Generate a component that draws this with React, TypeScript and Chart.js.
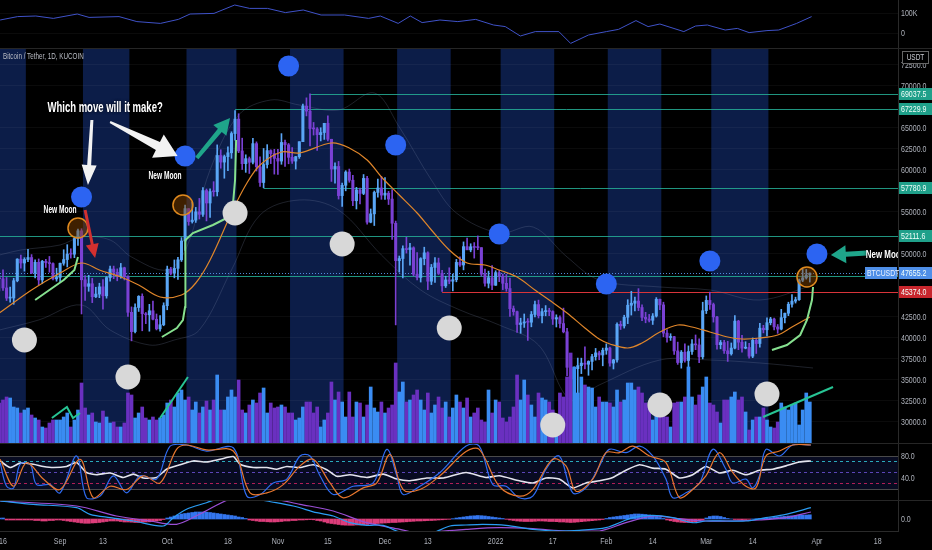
import React, { useEffect, useRef } from "react";
import { Chart, registerables } from "chart.js";

Chart.register(...registerables);

// ---------- x axis: days since 15 Aug 2021 ----------
const X_MIN = 0.16;
const X_MAX = 251.7;
const TICK_DAYS = [1, 17, 29, 47, 64, 78, 92, 108, 120, 139, 155, 170, 183, 198, 211, 229, 246];
const TICK_LABELS = ["16", "Sep", "13", "Oct", "18", "Nov", "15", "Dec", "13", "2022", "17", "Feb", "14", "Mar", "14", "Apr", "18"];

// ---------- daily candles, 15 Aug 2021 .. 30 Mar 2022 ----------
const OPEN = [
  47050, 46990, 45900, 44690, 44700, 46760, 49330, 48870, 49290, 49520, 47700, 48950, 46850, 49070, 48900, 48800, 46980,
  47150, 48840, 49280, 49940, 49920, 51790, 52700, 46870, 46090, 46400, 44850, 45170, 46030, 44960, 47130, 48150, 47770, 47300, 48300, 47260, 43000, 40700, 43570, 44900, 42830, 42700, 43180, 42170, 41030, 41520,
  43790, 48140, 47650, 48230, 49250, 51490, 55340, 53800, 53970, 54960, 54660, 57490, 56010, 57370, 57350, 61670, 60880, 61530, 61990, 64280, 66000, 62210, 60690, 61290, 60860, 63080, 60330, 58450, 60590, 62250, 61890,
  61320, 61000, 63220, 62940, 61450, 61000, 61530, 63310, 67550, 66950, 64880, 64830, 64150, 64400, 65500, 63600, 60060, 60360, 56890, 58120, 59700, 58720, 56280, 57570, 57150, 58940, 53730, 54720, 57270, 57800,
  56950, 57180, 56480, 53600, 49150, 49400, 50580, 50470, 50680, 47540, 47140, 49390, 50080, 46700, 48340, 48880, 47630, 46150, 46850, 46700, 46880, 48940, 48630, 50820, 50430, 50800, 50720, 50700, 47540, 46460, 47120,
  46220, 47720, 47290, 46450, 45830, 43430, 43080, 41550, 41730, 41860, 41820, 42740, 43920, 42600, 43080, 43200, 43090, 42200, 42370, 41660, 40680, 36450, 35070, 36280, 36650, 36950, 36810, 37150, 37720, 38170, 37920,
  38480, 38740, 36950, 37330, 41570, 41380, 42410, 43840, 44080, 44340, 43570, 42400, 42200, 42050, 42550, 44550, 43880, 40520, 40000, 40100, 38400, 37020, 38250, 37260, 38330, 39230, 39120, 37700,
  43190, 44420, 43920, 42450, 39150, 39400, 38420, 38060, 38740, 41950, 39440, 38730, 38810, 37780, 39670, 39280, 41110, 40920, 41760, 42200, 41260, 41000, 42360, 42890, 43960, 44330, 44500, 46820, 47100, 47440,
];
const HIGH = [
  47400, 48050, 47150, 46000, 47050, 49380, 49800, 49500, 50500, 49870, 49250, 49350, 49180, 49300, 49650, 48900, 48250,
  48850, 50450, 51050, 50560, 51900, 52900, 52950, 47380, 47400, 47040, 45980, 46460, 46880, 47250, 48490, 48500, 48170, 48820, 48370, 47350, 43640, 44000, 44980, 45200, 42980, 43950, 44350, 42800, 42600, 44130,
  48500, 48360, 49230, 49530, 51890, 55750, 55340, 56100, 55490, 56560, 57840, 57680, 57700, 58550, 62930, 62350, 61720, 62700, 64490, 67000, 66640, 63730, 61750, 61490, 63700, 63290, 61500, 62500, 62960, 62350, 62400,
  62400, 64270, 63500, 63100, 62600, 61560, 63300, 67790, 68530, 69000, 65600, 65000, 64970, 65500, 66400, 63600, 60800, 60960, 58380, 59860, 60050, 59300, 57880, 57800, 59400, 59200, 55300, 57440, 58860, 59180,
  59050, 57400, 57600, 53860, 49700, 50900, 51930, 51200, 50800, 50100, 49500, 50750, 50200, 48700, 49500, 49450, 47990, 47300, 48300, 47550, 49300, 49600, 51380, 51850, 51160, 51300, 52090, 50700, 48140, 47900, 48550,
  47950, 47990, 47560, 47500, 47070, 43750, 43150, 42300, 42800, 42250, 43100, 44350, 44450, 43450, 43800, 43480, 43180, 42700, 42580, 43500, 41100, 36830, 36500, 37550, 37540, 38900, 37230, 38000, 38700, 38370, 38740,
  39250, 38850, 37400, 41750, 41950, 42650, 44500, 45500, 44800, 45820, 43900, 43000, 42750, 42850, 44750, 44580, 44200, 40950, 40450, 40150, 39450, 38450, 39250, 39000, 39750, 40300, 39850, 44200,
  44950, 45400, 44100, 42520, 39650, 39650, 39550, 39350, 42600, 42050, 40250, 39500, 39300, 39950, 39900, 41700, 41450, 42350, 42400, 42300, 41550, 43350, 42900, 44200, 45100, 44800, 46950, 48200, 48100, 47700,
];
const LOW = [
  45550, 45600, 44400, 44200, 43950, 46630, 48250, 47900, 49020, 47600, 47100, 46250, 46400, 48350, 47770, 46850, 46700,
  46550, 48600, 48400, 49450, 49500, 50970, 42800, 44400, 45500, 44150, 44750, 44740, 43370, 44680, 46700, 47000, 46750, 47050, 46850, 42500, 39600, 40550, 43100, 40800, 41650, 40750, 42100, 40900, 40750, 41400,
  43300, 47450, 47100, 46900, 49050, 50380, 53360, 53620, 53700, 54100, 54420, 53880, 54300, 56820, 56850, 60150, 58960, 59850, 61330, 63480, 62000, 60000, 59660, 59530, 60650, 59820, 58000, 57820, 60170, 60700, 59450,
  59400, 60620, 60380, 60680, 60720, 60050, 61320, 63300, 66380, 62820, 64100, 62280, 63400, 63580, 63400, 58580, 58370, 56480, 55600, 57460, 58480, 55680, 55300, 55900, 57000, 53500, 53650, 53330, 56700, 56450,
  56450, 55830, 51680, 41500, 47800, 47100, 50050, 48600, 47330, 46850, 46600, 48650, 45700, 46300, 46550, 47500, 45500, 45950, 46400, 45550, 46630, 48450, 48050, 50450, 50200, 49450, 50450, 47300, 46100, 45900, 45680,
  46200, 46650, 45700, 45500, 42500, 42650, 40610, 40500, 41200, 39650, 41270, 42450, 42320, 41730, 42580, 42600, 41550, 41250, 41150, 40550, 35450, 34000, 34600, 32950, 35700, 36250, 35500, 36150, 37300, 37350, 36630,
  38000, 36600, 36250, 37050, 40950, 41120, 41650, 42670, 43150, 43200, 42000, 41750, 41850, 41550, 42430, 43300, 40080, 39450, 39650, 38000, 36800, 36350, 37050, 34320, 38000, 38550, 37000, 37450,
  42850, 43350, 41830, 38600, 38650, 38100, 37150, 37900, 38650, 38550, 38250, 38650, 37550, 37600, 38100, 38850, 40550, 40200, 41500, 40900, 40500, 40900, 41750, 42600, 43600, 44100, 44400, 46650, 46950, 46600,
];
const CLOSE = [
  46990, 45900, 44690, 44700, 46760, 49330, 48870, 49290, 49520, 47700, 48950, 46850, 49070, 48900, 48800, 46980, 47150,
  48840, 49280, 49940, 49920, 51790, 52700, 46870, 46090, 46400, 44850, 45170, 46030, 44960, 47130, 48150, 47770, 47300, 48300, 47260, 43000, 40700, 43570, 44900, 42830, 42700, 43180, 42170, 41030, 41520, 43790,
  48140, 47650, 48230, 49250, 51490, 55340, 53800, 53970, 54960, 54660, 57490, 56010, 57370, 57350, 61670, 60880, 61530, 61990, 64280, 66000, 62210, 60690, 61290, 60860, 63080, 60330, 58450, 60590, 62250, 61890, 61320,
  61000, 63220, 62940, 61450, 61000, 61530, 63310, 67550, 66950, 64880, 64830, 64150, 64400, 65500, 63600, 60060, 60360, 56890, 58120, 59700, 58720, 56280, 57570, 57150, 58940, 53730, 54720, 57270, 57800, 56950,
  57180, 56480, 53600, 49150, 49400, 50580, 50470, 50680, 47540, 47140, 49390, 50080, 46700, 48340, 48880, 47630, 46150, 46850, 46700, 46880, 48940, 48630, 50820, 50430, 50800, 50720, 50700, 47540, 46460, 47120, 46220,
  47720, 47290, 46450, 45830, 43430, 43080, 41550, 41730, 41860, 41820, 42740, 43920, 42600, 43080, 43200, 43090, 42200, 42370, 41660, 40680, 36450, 35070, 36280, 36650, 36950, 36810, 37150, 37720, 38170, 37920, 38480,
  38740, 36950, 37330, 41570, 41380, 42410, 43840, 44080, 44340, 43570, 42400, 42200, 42050, 42550, 44550, 43880, 40520, 40000, 40100, 38400, 37020, 38250, 37260, 38330, 39230, 39120, 37700, 43190,
  44420, 43920, 42450, 39150, 39400, 38420, 38060, 38740, 41950, 39440, 38730, 38810, 37780, 39670, 39280, 41110, 40920, 41760, 42200, 41260, 41000, 42360, 42890, 43960, 44330, 44500, 46820, 47100, 47440, 47655,
];
const VOLUME = [
  40, 43, 46, 45, 36, 35, 30, 33, 35, 28, 25, 23, 16, 15, 20, 23, 23,
  23, 26, 30, 16, 23, 33, 60, 35, 28, 30, 21, 20, 32, 26, 20, 21, 16, 16, 20, 50, 48, 25, 30, 36, 25, 23, 26, 23, 25, 28,
  40, 43, 36, 50, 53, 43, 46, 33, 41, 30, 36, 42, 33, 43, 68, 33, 33, 46, 53, 46, 63, 33, 30, 38, 43, 40, 50, 55, 30, 40, 35,
  36, 38, 36, 30, 30, 23, 25, 36, 41, 41, 30, 36, 16, 23, 30, 61, 43, 51, 41, 26, 51, 26, 41, 40, 26, 38, 56, 35, 31, 41,
  30, 35, 38, 80, 51, 61, 41, 43, 48, 53, 43, 33, 50, 30, 38, 46, 35, 41, 26, 35, 48, 41, 35, 45, 26, 30, 35, 23, 21, 53, 30,
  43, 41, 25, 21, 26, 36, 68, 43, 63, 48, 38, 26, 50, 45, 43, 41, 33, 26, 50, 46, 66, 90, 76, 50, 66, 58, 56, 55, 36, 46, 41,
  41, 40, 36, 53, 41, 43, 60, 60, 53, 56, 50, 40, 36, 23, 30, 36, 40, 26, 16, 40, 41, 41, 46, 76, 46, 38, 48, 56,
  66, 40, 38, 31, 20, 43, 43, 46, 51, 43, 46, 31, 13, 23, 26, 26, 35, 23, 16, 15, 21, 40, 36, 33, 38, 40, 18, 33, 50, 41,
];

// ---------- indicator lines on the price pane: [day, price] ----------
const EMA_LINE = [
  [0, 42917], [9, 45655], [17, 47679], [23, 48869], [28, 48036], [34, 47202], [39, 46250], [45, 44822], [51, 45060], [55, 46488],
  [59, 49227], [65, 54822], [69, 58155], [73, 60536], [79, 62084], [84, 61965], [93, 63156], [98, 62560], [103, 61131], [107, 59108],
  [112, 56965], [117, 54822], [121, 52798], [126, 50417], [131, 48869], [136, 48631], [140, 48036], [145, 47202], [150, 45655], [154, 44465],
  [159, 42917], [164, 41131], [168, 39822], [171, 39226], [176, 38750], [180, 39345], [185, 40655], [190, 41488], [194, 41250], [199, 40655],
  [204, 40060], [208, 39822], [213, 39940], [218, 40298], [222, 41250], [227, 42441],
];
const TREND_1 = [[10, 44464], [14, 45655], [18, 46845], [21, 48036], [22, 49583]];
const TREND_2 = [[45.5, 40060], [49.7, 41131], [51.4, 42083], [52, 43630], [52.1, 51607], [54.2, 52440], [59.8, 53393], [63.7, 54226], [65.4, 55774], [66, 58750], [66.3, 63512]];
const TREND_3 = [[216.4, 38512], [220.6, 39107], [224.3, 40298], [226.2, 42083], [227.6, 44464], [227.9, 46012]];
const BAND_UPPER = [
  [0, 49821], [6, 50417], [17, 51012], [23, 51964], [31, 51607], [37, 49583], [47, 48036], [52.5, 50774], [59, 59940], [67, 66488],
  [76, 68274], [84, 67679], [95, 67083], [105, 69107], [112, 65060], [121, 58750], [128, 54822], [140, 52440], [149.5, 53155], [159, 49583],
  [168, 46845], [185, 46012], [199, 45655], [213, 44464], [227.9, 46250],
];
const BAND_LOWER = [
  [0, 40893], [11, 42083], [23, 43869], [31, 40893], [42, 39107], [49, 39703], [56, 40893], [65, 48036], [73, 54583], [84, 56369],
  [95, 55179], [107, 49821], [118, 45655], [129, 43274], [140, 41488], [151, 39107], [160, 32560], [168, 34345], [185, 37321], [199, 37321],
  [213, 36964], [227.9, 36369],
];
const VOLUME_TREND_1 = [[14.7, 30416], [18.9, 31726], [20.6, 30416], [22.6, 31012]];
const VOLUME_TREND_2 = [[45, 30417], [52.8, 35298]];
const VOLUME_TREND_3 = [[213.9, 30536], [233.5, 34107]];

// ---------- moon phases ----------
const BAND_START_DAYS = [-7, 23, 52, 81, 111, 140, 170, 199];
const BAND_END_DAYS = [7, 36, 66, 96, 126, 155, 185, 215];
const NEW_MOON_DAYS = [23, 52, 81, 111, 140, 170, 199, 229];
const NEW_MOON_MARK = [56726, 61607, 72321, 62917, 52321, 46369, 49107, 49940];
const FULL_MOON_DAYS = [7, 36, 66, 96, 126, 155, 185, 215];
const FULL_MOON_MARK = [39702, 35298, 54821, 51131, 41131, 29583, 31964, 33274];
const HIGHLIGHT_DAYS = [22, 51.4, 226.2];
const HIGHLIGHT_PRICE = [53036, 55774, 47202];

// ---------- horizontal levels ----------
const LEVEL_PRICES = [69037.5, 67229.9, 57780.9, 52111.6, 47300, 45374.0];
const LEVEL_START_DAYS = [87, 66, 74, 0, 0, 124];
const TAG_PRICES = [69037.5, 67229.9, 57780.9, 52111.6, 47655.2, 45374.0];
const LAST_PRICE = 47655.2;
const PRICE_TICKS = [30000, 32500, 35000, 37500, 40000, 42500, 50000, 55000, 60000, 62500, 65000, 70000, 72500];

// ---------- top pane line (thousands) ----------
const TOP_LINE = [
  [0.2, 65], [5.1, 82], [10.2, 85], [15.1, 73], [21.8, 95], [25.1, 78], [33.5, 82], [38.5, 57], [45.1, 48], [50.1, 68],
  [53.4, 95], [60.1, 98], [65.9, 140], [70.1, 123], [75.1, 123], [80.1, 102], [85.1, 115], [90.1, 90], [96.7, 90], [103.4, 73],
  [106.7, 85], [111.7, 48], [115.1, 85], [118.4, 52], [123.4, 65], [128.4, 57], [133.4, 68], [138.4, 40], [141.7, 32], [145.9, -15],
  [150.1, 7], [156.7, 7], [160, -52], [165, -10], [170, 7], [173.4, 18], [178.3, 62], [181.7, 32], [185, 45], [191.7, 7],
  [195, 35], [198.3, 40], [203.3, 15], [206.7, 23], [210, 2], [215, 12], [218.3, 15], [223.3, 48], [227.5, 82],
];

// ---------- oscillator pane: [day, value] ----------
const RSI_LINE = [
  [0.2, 71], [3, 59], [5.8, 67], [9.5, 65], [12.3, 61], [15.1, 59], [18.8, 61], [21.6, 68], [24.4, 50], [27.2, 46], [31, 49], [34.7, 41],
  [37.5, 47], [40.3, 40], [44, 41], [46.8, 56], [50.6, 64], [54.3, 71], [58, 69], [61.8, 74], [65.5, 79], [67.4, 65], [71.1, 59], [74.9, 59],
  [77.7, 56], [80.5, 61], [84.2, 59], [87.9, 64], [91.7, 55], [94.5, 43], [98.2, 46], [102.9, 41], [107.5, 47], [111.3, 38], [115, 35],
  [119.7, 40], [124.4, 40], [130.7, 50], [136.3, 41], [140, 44], [145.6, 35], [149.4, 31], [153.1, 40], [156.8, 38], [160.6, 22], [164.3, 31],
  [168.1, 35], [171.8, 41], [175.5, 54], [179.3, 64], [183, 58], [186.7, 56], [190.5, 40], [194.2, 46], [197.9, 61], [201.7, 49], [205.4, 54],
  [209.1, 46], [212.9, 54], [216.6, 56], [220.3, 62], [224.1, 69], [227.3, 71],
];
const STOCH_K = [
  [0.2, 68], [2, 25], [4, 22], [5.8, 65], [8.6, 65], [10.4, 28], [14.2, 28], [17, 13], [21.6, 80], [24.4, 4], [28.2, 7], [31.9, 44],
  [35.6, 13], [39.4, 44], [44, 38], [47.8, 98], [52.4, 100], [58, 89], [65.5, 95], [69.3, 7], [73, 10], [76.7, 31], [80.5, 38], [84.2, 80],
  [87, 80], [89.8, 44], [93.5, 10], [99.1, 25], [104.7, 31], [108.5, 92], [111.3, 44], [113.1, 10], [117.8, 25], [123.4, 50], [130.7, 98],
  [134.4, 98], [138.2, 28], [141.9, 25], [145.6, 4], [149.4, 7], [153.1, 56], [156.8, 80], [160.6, 13], [164.3, 22], [168.1, 62], [170.8, 92],
  [175.5, 86], [179.3, 98], [183, 80], [186.7, 38], [188.6, 4], [192.3, 13], [196.1, 31], [199.8, 92], [203.5, 56], [205.4, 31], [209.1, 38],
  [211, 22], [212.9, 44], [214.7, 92], [218.5, 80], [222.2, 100], [227.3, 100],
];
const STOCH_D = [
  [0.2, 74], [4, 25], [7.6, 68], [12.3, 38], [17, 19], [22.6, 74], [26.3, 4], [31, 25], [35.6, 19], [40.3, 44], [45, 31], [49.6, 92],
  [52.4, 100], [58, 91], [65.5, 89], [70.2, 13], [74.9, 13], [79.5, 28], [84.2, 62], [87.9, 74], [92.6, 31], [96.3, 4], [101.9, 22],
  [105.7, 31], [109.4, 83], [113.1, 19], [117.8, 19], [123.4, 44], [130.7, 88], [134.4, 92], [140, 25], [145.6, 7], [149.4, 19], [155, 74],
  [158.7, 62], [161.5, 16], [166.2, 38], [169.9, 86], [173.7, 86], [177.4, 98], [182.1, 80], [186.7, 68], [190.5, 4], [194.2, 19], [197.9, 44],
  [201.7, 86], [205.4, 50], [209.1, 25], [211.9, 22], [214.7, 80], [218.5, 89], [222.2, 100], [227.3, 100],
];

// ---------- MACD pane ----------
const MACD_HIST = [
  1, 1,
  -1, -1, -1, -1, -1, -1, -1, -1,
  -1.5, -1.5, -2, -2, -1.5, -1.5, -1, -1, -1.5, -2, -2.5, -3,
  -3.5, -4, -4.3, -4.3, -4, -3.8, -3.5, -3, -2.5, -2,
  -2, -2, -2.5, -3,
  -3, -3.2, -3.5, -3.5, -3.2, -3, -2.8, -2.5, -2, -1.5,
  -0.5, 1, 2, 3, 4, 5, 5.5,
  6, 6.5, 7, 7, 7, 6.8, 6.5, 6, 5.5, 5, 4.5, 4, 3.5,
  3, 2, 1.5, 0.5,
  -1, -1.5, -2, -2.5, -2.5, -2.8, -3, -3, -2.8, -2.5, -2, -2, -1.5, -1.5, -1,
  -1, -0.8, -0.6, -0.8, -1.5,
  -2, -3, -4, -4.5, -5, -5.5, -6, -6.2, -6.3, -6.3, -6, -6, -5.8, -5.5, -5, -4.8, -4.5, -4.2, -4, -3.8, -3.5, -3.5, -3.2, -3, -2.8, -2.5, -2.3,
  -2, -2, -1.8, -1.6, -1.5, -1.3, -1, -0.8, -0.5, -0.3, 0.3,
  1, 1.5, 2, 2.5,
  3, 3.2, 3.5, 3.3, 3, 2.5, 2, 1.5, 1, 0.5, -0.3,
  -1, -1.5, -2, -2.3, -2.5, -2.5, -2.5, -2.3, -2, -2, -2.2, -2.5, -2.5, -2.7, -3, -3,
  -3.3, -3.5, -3.3, -3, -2.7, -2.3, -2, -1.7, -1.3, -1, -0.5,
  0.5, 1.5, 2, 2.5, 3, 3.5, 4, 4.5, 5, 5, 4.8, 4.5, 4, 3.5, 2.5, 1.5, 0.5,
  -1, -1.8, -2.5, -3, -3.3, -3.5, -3.5, -3.2, -2.8, -2, -1,
  1, 2.5, 3, 3, 2.5, 1.5,
  0.5, 0, -0.5, -0.5, -0.7, -0.5, -0.3, 0, 0.3, 0.5, 0.8,
  1, 1.3, 1.6, 2, 2.3, 2.6, 3, 3.2, 3.5, 3.7, 3.9, 4, 4.2,
];
const MACD_LINE = [
  [0.2, 18], [9.5, 14.7], [21.6, 11.3], [25.4, 4.7], [31, 1.3], [37.5, -2], [45.9, -7], [48.7, 1.3], [52.4, 9.7], [58, 16.3], [61.8, 21],
  [65.5, 24], [69.3, 22], [74.9, 18], [82.3, 13], [88.9, 6.3], [93.5, 3], [98.2, -3.7], [102.9, -6.3], [107.5, -6.3], [111.3, -12],
  [116.9, -17], [121.5, -13.7], [126.2, -7], [130.7, -6], [135.4, -5.3], [141.9, -6.3], [149.4, -10.3], [156.8, -12], [162.4, -11.3],
  [169.9, -8.7], [177.4, 1.3], [183, 3.7], [188.6, 1.3], [194.2, -3.7], [197.9, -2], [203.5, -2], [209.1, -2], [214.7, 1.3], [220.3, 4.7], [227.3, 11.3],
];
const MACD_SIGNAL = [
  [0.2, 18], [21.6, 13], [32.8, 3], [42.2, -2], [49.6, -5.3], [56.2, 5], [65.5, 21], [74.9, 21], [84.2, 14.7], [93.5, 8], [102.9, -3.7],
  [112.2, -10.3], [116.9, -13.7], [130.7, -10.3], [140, -8.7], [149.4, -9.7], [158.7, -12], [168.1, -12], [175.5, -3.7], [183, 3],
  [190.5, 0.3], [197.9, -2], [205.4, -2], [212.9, -1], [220.3, 1.3], [227.3, 7],
];

// ---------- annotations (data coordinates) ----------
const NOTE_TEXTS = ["Which move will it make?", "New Moon", "New Moon", "New Moon"];
const NOTE_DAYS = [29.6, 17, 46.4, 242.7];
const NOTE_PRICES = [67321, 55179, 59226, 49821];
const ARROW_FROM = [[25.9, 65893], [31, 65655], [55.3, 61369], [24, 55179], [243, 50060]];
const ARROW_TO = [[24.8, 58155], [49.9, 61607], [64.6, 66131], [26.8, 49464], [232.9, 49821]];

// ---------- styling ----------
const FONT = "'Liberation Sans', Arial, sans-serif";
const AXIS_W = 34;
const AXIS_TEXT = "#aeb2bb";
const GRID = "rgba(255,255,255,0.045)";
const UP = "#5aa6f6";
const DOWN = "#7a41d4";
const VOL_UP = "#3a8cf2";
const VOL_DOWN = "#6a30c0";
const TEAL = "#1fa08a";
const ARROW_STYLE = [
  { color: "#f2f2f2", w1: 3, w2: 4, head: 20, headW: 15 },
  { color: "#f2f2f2", w1: 2, w2: 9, head: 22, headW: 26 },
  { color: "#1fa58a", w1: 4, w2: 5, head: 16, headW: 17 },
  { color: "#d3302f", w1: 3, w2: 3, head: 14, headW: 13 },
  { color: "#1fa58a", w1: 5, w2: 5, head: 15, headW: 18 },
];
const NOTE_STYLE = [
  { size: 14, align: "center", sx: 0.68 },
  { size: 10, align: "center", sx: 0.66 },
  { size: 10, align: "center", sx: 0.66 },
  { size: 11, align: "left", sx: 0.72 },
];

const MAIN_MIN = 27440;
const MAIN_MAX = 74464;

const pts = (arr: number[][]) => arr.map(([x, y]) => ({ x, y }));

function narrowText(ctx: any, text: string, x: number, y: number, align: string, sx: number) {
  ctx.save();
  ctx.translate(x, y);
  ctx.scale(sx, 1);
  ctx.textAlign = align;
  ctx.fillText(text, 0, 0);
  ctx.restore();
}

const common: any = {
  responsive: false,
  maintainAspectRatio: false,
  animation: false,
  devicePixelRatio: 1,
  events: [],
  layout: { padding: 0, autoPadding: false },
  plugins: { legend: { display: false }, tooltip: { enabled: false } },
};

const hiddenX = () => ({ type: "linear", min: X_MIN, max: X_MAX, offset: false, display: false, ticks: { display: false } });

function rightAxis(min: number, max: number, ticks: number[], grid: boolean) {
  return {
    type: "linear",
    position: "right",
    min,
    max,
    afterBuildTicks: (s: any) => {
      s.ticks = ticks.map((v) => ({ value: v }));
    },
    afterFit: (s: any) => {
      s.width = AXIS_W;
      s.paddingTop = 0;
      s.paddingBottom = 0;
    },
    ticks: { display: false },
    grid: { display: grid, color: GRID, drawTicks: false },
    border: { display: true, color: "#2a2a2a" },
  };
}

// y tick labels drawn through the y scale, in a condensed face
function yLabels(fmt: (v: number) => string) {
  return {
    id: "yLabels",
    afterDraw(chart: any) {
      const { ctx, chartArea } = chart;
      const ys = chart.scales.y;
      ctx.save();
      ctx.fillStyle = AXIS_TEXT;
      ctx.font = `9.5px ${FONT}`;
      ctx.textBaseline = "middle";
      ys.ticks.forEach((t: any) => {
        narrowText(ctx, fmt(t.value), chartArea.right + 3, ys.getPixelForValue(t.value) + 0.5, "left", 0.74);
      });
      ctx.restore();
    },
  };
}

const bgPlugin = {
  id: "bg",
  beforeDraw(chart: any) {
    const { ctx, width, height } = chart;
    ctx.save();
    ctx.fillStyle = "#000";
    ctx.fillRect(0, 0, width, height);
    ctx.restore();
  },
};

const topBorderPlugin = {
  id: "topBorder",
  afterDraw(chart: any) {
    const { ctx, width } = chart;
    ctx.save();
    ctx.fillStyle = "#262626";
    ctx.fillRect(0, 0, width, 1);
    ctx.restore();
  },
};

function drawArrow(ctx: any, x1: number, y1: number, x2: number, y2: number, s: any) {
  const dx = x2 - x1;
  const dy = y2 - y1;
  const len = Math.hypot(dx, dy);
  const ux = dx / len;
  const uy = dy / len;
  const nx = -uy;
  const ny = ux;
  const bx = x2 - ux * s.head;
  const by = y2 - uy * s.head;
  ctx.beginPath();
  ctx.moveTo(x1 + (nx * s.w1) / 2, y1 + (ny * s.w1) / 2);
  ctx.lineTo(bx + (nx * s.w2) / 2, by + (ny * s.w2) / 2);
  ctx.lineTo(bx + (nx * s.headW) / 2, by + (ny * s.headW) / 2);
  ctx.lineTo(x2, y2);
  ctx.lineTo(bx - (nx * s.headW) / 2, by - (ny * s.headW) / 2);
  ctx.lineTo(bx - (nx * s.w2) / 2, by - (ny * s.w2) / 2);
  ctx.lineTo(x1 - (nx * s.w1) / 2, y1 - (ny * s.w1) / 2);
  ctx.closePath();
  ctx.fillStyle = s.color;
  ctx.fill();
}

const mainPlugins = [
  bgPlugin,
  {
    id: "bands",
    beforeDraw(chart: any) {
      const { ctx, chartArea } = chart;
      const xs = chart.scales.x;
      ctx.save();
      ctx.beginPath();
      ctx.rect(chartArea.left, chartArea.top, chartArea.right - chartArea.left, chartArea.bottom - chartArea.top);
      ctx.clip();
      ctx.fillStyle = "#0c1d48";
      BAND_START_DAYS.forEach((d, i) => {
        const a = xs.getPixelForValue(d + 0.4);
        const b = xs.getPixelForValue(BAND_END_DAYS[i] + 0.4);
        ctx.fillRect(a, chartArea.top, b - a, chartArea.bottom - chartArea.top);
      });
      ctx.restore();
    },
  },
  {
    id: "levels",
    beforeDatasetsDraw(chart: any) {
      const { ctx, chartArea } = chart;
      const xs = chart.scales.x;
      const ys = chart.scales.y;
      ctx.save();
      LEVEL_PRICES.forEach((p, i) => {
        const y = Math.round(ys.getPixelForValue(p)) + 0.5;
        const x0 = Math.max(chartArea.left, xs.getPixelForValue(LEVEL_START_DAYS[i]));
        ctx.strokeStyle = p === 45374.0 ? "#d8343a" : "rgba(38,175,150,0.85)";
        ctx.lineWidth = 1;
        ctx.beginPath();
        ctx.moveTo(x0, y);
        ctx.lineTo(chartArea.right, y);
        ctx.stroke();
      });
      const yl = Math.round(ys.getPixelForValue(LAST_PRICE)) + 0.5;
      ctx.strokeStyle = "rgba(90,150,240,0.9)";
      ctx.setLineDash([1, 2]);
      ctx.beginPath();
      ctx.moveTo(chartArea.left, yl);
      ctx.lineTo(chartArea.right, yl);
      ctx.stroke();
      ctx.restore();
    },
  },
  {
    id: "notes",
    afterDatasetsDraw(chart: any) {
      const { ctx, chartArea } = chart;
      const xs = chart.scales.x;
      const ys = chart.scales.y;
      ctx.save();
      ctx.beginPath();
      ctx.rect(chartArea.left, chartArea.top, chartArea.right - chartArea.left, chartArea.bottom - chartArea.top);
      ctx.clip();
      ARROW_FROM.forEach((f, i) => {
        const t = ARROW_TO[i];
        drawArrow(ctx, xs.getPixelForValue(f[0]), ys.getPixelForValue(f[1]), xs.getPixelForValue(t[0]), ys.getPixelForValue(t[1]), ARROW_STYLE[i]);
      });
      ctx.shadowColor = "rgba(0,0,0,0.85)";
      ctx.shadowBlur = 3;
      ctx.fillStyle = "#ffffff";
      ctx.textBaseline = "middle";
      NOTE_TEXTS.forEach((txt, i) => {
        const st = NOTE_STYLE[i];
        ctx.font = `bold ${st.size}px ${FONT}`;
        narrowText(ctx, txt, xs.getPixelForValue(NOTE_DAYS[i]), ys.getPixelForValue(NOTE_PRICES[i]), st.align, st.sx);
      });
      ctx.restore();
    },
  },
  yLabels((v) => v.toFixed(1)),
  {
    id: "tags",
    afterDraw(chart: any) {
      const { ctx, chartArea, width } = chart;
      const ys = chart.scales.y;
      ctx.save();
      ctx.font = `9.5px ${FONT}`;
      ctx.textBaseline = "middle";
      TAG_PRICES.forEach((p) => {
        const y = Math.round(ys.getPixelForValue(p));
        let bg = TEAL;
        if (p === LAST_PRICE) bg = "#4f8fe8";
        if (p === 45374.0) bg = "#c8262d";
        ctx.fillStyle = bg;
        ctx.fillRect(chartArea.right + 1, y - 6, width - chartArea.right - 1, 12);
        if (p === LAST_PRICE) {
          ctx.fillRect(chartArea.right - 33, y - 6, 32, 12);
          ctx.fillStyle = "#eaf2ff";
          narrowText(ctx, "BTCUSDT", chartArea.right - 31, y + 0.5, "left", 0.72);
        }
        ctx.fillStyle = "#f2fffb";
        narrowText(ctx, p.toFixed(1), chartArea.right + 3, y + 0.5, "left", 0.74);
      });
      // currency box
      ctx.fillStyle = "#000";
      ctx.fillRect(chartArea.right + 4, 3, 27, 13);
      ctx.strokeStyle = "#666";
      ctx.lineWidth = 1;
      ctx.strokeRect(chartArea.right + 4.5, 3.5, 26, 12);
      ctx.fillStyle = "#c8cad0";
      ctx.font = `9px ${FONT}`;
      narrowText(ctx, "USDT", chartArea.right + 17.5, 10, "center", 0.72);
      // title
      ctx.fillStyle = "#b9bcc4";
      ctx.font = `8.5px ${FONT}`;
      narrowText(ctx, "Bitcoin / Tether, 1D, KUCOIN", 3, 9, "left", 0.74);
      ctx.fillStyle = "#262626";
      ctx.fillRect(0, 0, width, 1);
      ctx.restore();
    },
  },
];

const rsiLevels = {
  id: "rsiLevels",
  beforeDatasetsDraw(chart: any) {
    const { ctx, chartArea } = chart;
    const ys = chart.scales.y;
    const y80 = ys.getPixelForValue(80);
    const y20 = ys.getPixelForValue(20);
    ctx.save();
    ctx.fillStyle = "rgba(22,32,95,0.35)";
    ctx.fillRect(chartArea.left, y80, chartArea.right - chartArea.left, y20 - y80);
    const line = (v: number, color: string, dash: number[]) => {
      const y = Math.round(ys.getPixelForValue(v)) + 0.5;
      ctx.strokeStyle = color;
      ctx.setLineDash(dash);
      ctx.lineWidth = 1;
      ctx.beginPath();
      ctx.moveTo(chartArea.left, y);
      ctx.lineTo(chartArea.right, y);
      ctx.stroke();
    };
    line(80, "#4a4a4a", []);
    line(20, "#4a4a4a", []);
    line(70, "#2aaabb", [3, 3]);
    line(50, "#5b45b8", [3, 3]);
    line(30, "#b01e58", [3, 3]);
    ctx.restore();
  },
};

const xLabels = {
  id: "xLabels",
  afterDraw(chart: any) {
    const { ctx, chartArea } = chart;
    const xs = chart.scales.x;
    ctx.save();
    ctx.fillStyle = AXIS_TEXT;
    ctx.font = `9.5px ${FONT}`;
    ctx.textBaseline = "middle";
    TICK_DAYS.forEach((d, i) => {
      narrowText(ctx, TICK_LABELS[i], xs.getPixelForValue(d), chartArea.bottom + 10, "center", 0.74);
    });
    ctx.restore();
  },
};

export default function App() {
  const topRef = useRef<HTMLCanvasElement>(null);
  const mainRef = useRef<HTMLCanvasElement>(null);
  const rsiRef = useRef<HTMLCanvasElement>(null);
  const macdRef = useRef<HTMLCanvasElement>(null);

  useEffect(() => {
    document.body.style.margin = "0";
    document.body.style.background = "#000";
    const charts: Chart[] = [];

    // top pane
    charts.push(
      new Chart(topRef.current as any, {
        type: "line",
        data: {
          datasets: [
            { data: pts(TOP_LINE), borderColor: "#3f52c8", borderWidth: 1, pointRadius: 0, tension: 0 } as any,
          ],
        },
        options: {
          ...common,
          scales: {
            x: hiddenX(),
            y: rightAxis(-75, 165, [0, 100], true),
          },
        },
        plugins: [bgPlugin, yLabels((v) => (v === 0 ? "0" : "100K"))],
      } as any)
    );

    // price pane
    const up = OPEN.map((o, i) => CLOSE[i] >= o);
    charts.push(
      new Chart(mainRef.current as any, {
        type: "bar",
        data: {
          datasets: [
            {
              type: "line",
              data: NEW_MOON_DAYS.map((d, i) => ({ x: d, y: NEW_MOON_MARK[i] })),
              showLine: false,
              pointRadius: 10.5,
              pointBackgroundColor: "#2c64f2",
              pointBorderWidth: 0,
              order: 0,
            },
            {
              type: "line",
              data: FULL_MOON_DAYS.map((d, i) => ({ x: d, y: FULL_MOON_MARK[i] })),
              showLine: false,
              pointRadius: 12.5,
              pointBackgroundColor: "#d8d8d8",
              pointBorderWidth: 0,
              order: 0,
            },
            {
              type: "line",
              data: HIGHLIGHT_DAYS.map((d, i) => ({ x: d, y: HIGHLIGHT_PRICE[i] })),
              showLine: false,
              pointRadius: 10,
              pointBackgroundColor: "rgba(140,70,0,0.45)",
              pointBorderColor: "#e08a1e",
              pointBorderWidth: 1.5,
              order: 0,
            },
            ...[VOLUME_TREND_1, VOLUME_TREND_2, VOLUME_TREND_3].map((arr) => ({
              type: "line",
              data: pts(arr),
              borderColor: "#27c494",
              borderWidth: 2,
              pointRadius: 0,
              order: 0.5,
            })),
            {
              data: VOLUME.map((v, i) => ({ x: i, y: v })),
              yAxisID: "yv",
              backgroundColor: up.map((u) => (u ? VOL_UP : VOL_DOWN)),
              barThickness: 3,
              grouped: false,
              borderWidth: 0,
              order: 1,
            },
            ...[TREND_1, TREND_2, TREND_3].map((arr) => ({
              type: "line",
              data: pts(arr),
              borderColor: "#86e08f",
              borderWidth: 2,
              pointRadius: 0,
              tension: 0,
              order: 2,
            })),
            {
              type: "line",
              data: pts(EMA_LINE),
              borderColor: "#e0862a",
              borderWidth: 1.2,
              pointRadius: 0,
              tension: 0.35,
              order: 2,
            },
            {
              data: OPEN.map((o, i) => ({ x: i, y: [o, CLOSE[i]] })),
              backgroundColor: up.map((u) => (u ? UP : DOWN)),
              barThickness: 2.4,
              minBarLength: 1,
              grouped: false,
              borderWidth: 0,
              order: 3,
            },
            {
              data: OPEN.map((_, i) => ({ x: i, y: [LOW[i], HIGH[i]] })),
              backgroundColor: up.map((u) => (u ? UP : DOWN)),
              barThickness: 1,
              grouped: false,
              borderWidth: 0,
              order: 4,
            },
            ...[BAND_UPPER, BAND_LOWER].map((arr) => ({
              type: "line",
              data: pts(arr),
              borderColor: "rgba(120,130,165,0.25)",
              borderWidth: 1,
              pointRadius: 0,
              tension: 0.35,
              order: 5,
            })),
          ],
        },
        options: {
          ...common,
          scales: {
            x: hiddenX(),
            y: rightAxis(MAIN_MIN, MAIN_MAX, PRICE_TICKS, true),
            yv: { type: "linear", display: false, min: 0, max: 395, ticks: { display: false } },
          },
        },
        plugins: mainPlugins,
      } as any)
    );

    // oscillator pane
    charts.push(
      new Chart(rsiRef.current as any, {
        type: "line",
        data: {
          datasets: [
            { data: pts(STOCH_D), borderColor: "#e8772e", borderWidth: 1.2, pointRadius: 0, tension: 0.35 },
            { data: pts(STOCH_K), borderColor: "#2f6cf2", borderWidth: 1.2, pointRadius: 0, tension: 0.35 },
            { data: pts(RSI_LINE), borderColor: "#e4e4ee", borderWidth: 1.6, pointRadius: 0, tension: 0.2 },
          ] as any,
        },
        options: {
          ...common,
          scales: {
            x: hiddenX(),
            y: rightAxis(0, 103.6, [40, 80], false),
          },
        },
        plugins: [bgPlugin, rsiLevels, topBorderPlugin, yLabels((v) => v.toFixed(1))],
      } as any)
    );

    // MACD pane with date axis
    charts.push(
      new Chart(macdRef.current as any, {
        type: "bar",
        data: {
          datasets: [
            {
              type: "line",
              data: pts(MACD_LINE),
              borderColor: "#2a9df4",
              borderWidth: 1.2,
              pointRadius: 0,
              tension: 0.3,
              order: 0,
            },
            {
              type: "line",
              data: pts(MACD_SIGNAL),
              borderColor: "#9b4fd6",
              borderWidth: 1.2,
              pointRadius: 0,
              tension: 0.3,
              order: 0,
            },
            {
              data: MACD_HIST.map((v, i) => ({ x: i, y: v })),
              backgroundColor: MACD_HIST.map((v) => (v >= 0 ? "#3476ee" : "#dc3d7a")),
              barThickness: 3,
              grouped: false,
              borderWidth: 0,
              order: 1,
            },
          ],
        },
        options: {
          ...common,
          scales: {
            x: {
              type: "linear",
              min: X_MIN,
              max: X_MAX,
              offset: false,
              position: "bottom",
              afterBuildTicks: (s: any) => {
                s.ticks = TICK_DAYS.map((v) => ({ value: v }));
              },
              afterFit: (s: any) => {
                s.height = 19;
                s.paddingLeft = 0;
                s.paddingRight = 0;
              },
              ticks: { display: false },
              grid: { display: false, drawTicks: false },
              border: { display: true, color: "#2a2a2a" },
            },
            y: rightAxis(-12, 19, [0], false),
          },
        },
        plugins: [bgPlugin, topBorderPlugin, xLabels, yLabels((v) => v.toFixed(1))],
      } as any)
    );

    return () => charts.forEach((c) => c.destroy());
  }, []);

  const cs = (top: number, h: number): any => ({ position: "absolute", left: 0, top, width: 932, height: h, display: "block" });

  return (
    <div style={{ position: "relative", width: 932, height: 550, background: "#000", overflow: "hidden" }}>
      <canvas ref={topRef} width={932} height={48} style={cs(0, 48)} />
      <canvas ref={mainRef} width={932} height={395} style={cs(48, 395)} />
      <canvas ref={rsiRef} width={932} height={57} style={cs(443, 57)} />
      <canvas ref={macdRef} width={932} height={50} style={cs(500, 50)} />
    </div>
  );
}
